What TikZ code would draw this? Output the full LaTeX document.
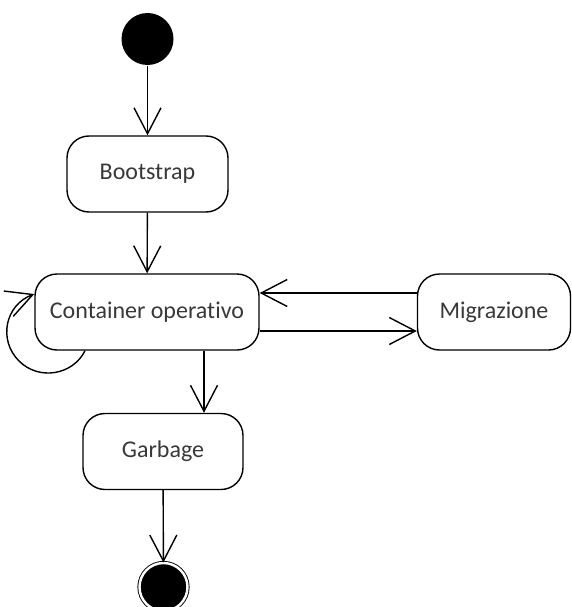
\documentclass[tikz,border=0pt]{standalone}
\usepackage{fontspec}
\setmainfont{Carlito}[Ligatures=NoCommon]
\usetikzlibrary{arrows.meta, positioning, calc}

\begin{document}
\begin{tikzpicture}[x=1pt, y=-1pt, line width=1.4pt,
    state/.style={draw, rounded corners=22pt, minimum height=76pt, inner sep=0pt,
        font=\fontsize{24}{28}\selectfont, text=black!78},
    arr/.style={-{Straight Barb[length=26pt, width=27pt]}}]
\useasboundingbox (0,0) rectangle (571,607);

% Start and end
\node[circle, fill=black, minimum size=52pt, inner sep=0pt] (start) at (147.5,39) {};
\node[circle, draw=black, line width=0.9pt, double=white, double distance=2.4pt,
    fill=black, minimum size=48pt, inner sep=0pt] (stop) at (163.5,587) {};

% States
\node[state, minimum width=161pt] (boot) at (147.5,174) {Bootstrap};
\node[state, minimum width=224pt] (cont) at (147,312) {Container operativo};
\node[state, minimum width=153pt] (migr) at (494,312) {Migrazione};
\node[state, minimum width=160pt] (garb) at (163,451.5) {Garbage};

% Transitions
\draw[arr] (start) -- (boot);
\draw[arr] (boot) -- (cont);
\draw[arr] ([xshift=57pt]cont.south) -- ([xshift=41pt]garb.north);
\draw[arr] (garb) -- (stop);
\draw[arr] (cont.east |- 0,331) -- (migr.west |- 0,331);
\draw[arr] (migr.west |- 0,293) -- (cont.east |- 0,293);

% Self loop
\draw[arr] ([xshift=-62pt]cont.south) .. controls (73,375) and (39,381) .. (19,361)
    .. controls (-2,340) and (5,305) .. (cont.west |- 0,294);
\end{tikzpicture}
\end{document}
